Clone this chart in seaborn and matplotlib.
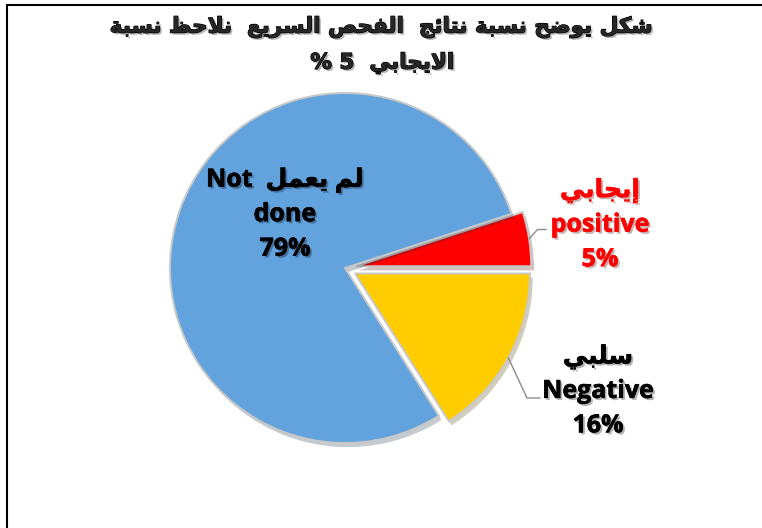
import matplotlib
matplotlib.use("Agg")
import matplotlib.pyplot as plt
import matplotlib.patheffects as pe
from matplotlib.lines import Line2D
import numpy as np
import seaborn as sns

# --- Дані ---
labels_ar = ["إيجابي", "لم يعمل", "سلبي"]
labels_en = ["positive", "Not done", "Negative"]
values = [5, 79, 16]
colors = ["#FF0000", "#62A3DE", "#FFCC00"]
text_colors = ["#FF0000", "black", "black"]
explode = [0.065, 0, 0.065]
title_line1 = "شكل يوضح نسبة نتائج  الفحص السريع  نلاحظ نسبة"
title_word2 = "الايجابي"
title_value = "% 5"

# --- Арабська: форми букв (ізольована, кінцева, початкова, середня) ---
FORMS = {
    "ا": (0xFE8D, 0xFE8E), "إ": (0xFE87, 0xFE88), "ة": (0xFE93, 0xFE94),
    "ر": (0xFEAD, 0xFEAE), "و": (0xFEED, 0xFEEE),
    "لا": (0xFEFB, 0xFEFC), "لإ": (0xFEF9, 0xFEFA),
    "ب": (0xFE8F, 0xFE90, 0xFE91, 0xFE92), "ت": (0xFE95, 0xFE96, 0xFE97, 0xFE98),
    "ج": (0xFE9D, 0xFE9E, 0xFE9F, 0xFEA0), "ح": (0xFEA1, 0xFEA2, 0xFEA3, 0xFEA4),
    "س": (0xFEB1, 0xFEB2, 0xFEB3, 0xFEB4), "ش": (0xFEB5, 0xFEB6, 0xFEB7, 0xFEB8),
    "ص": (0xFEB9, 0xFEBA, 0xFEBB, 0xFEBC), "ض": (0xFEBD, 0xFEBE, 0xFEBF, 0xFEC0),
    "ظ": (0xFEC5, 0xFEC6, 0xFEC7, 0xFEC8), "ع": (0xFEC9, 0xFECA, 0xFECB, 0xFECC),
    "ف": (0xFED1, 0xFED2, 0xFED3, 0xFED4), "ك": (0xFED9, 0xFEDA, 0xFEDB, 0xFEDC),
    "ل": (0xFEDD, 0xFEDE, 0xFEDF, 0xFEE0), "م": (0xFEE1, 0xFEE2, 0xFEE3, 0xFEE4),
    "ن": (0xFEE5, 0xFEE6, 0xFEE7, 0xFEE8), "ي": (0xFEF1, 0xFEF2, 0xFEF3, 0xFEF4),
    "ئ": (0xFE89, 0xFE8A, 0xFE8B, 0xFE8C),
}


def arabic(text):
    # з'єднуємо букви і перевертаємо рядок для показу справа наліво
    units, i = [], 0
    while i < len(text):
        if text[i] == "ل" and i + 1 < len(text) and text[i + 1] in "اإ":
            units.append("ل" + text[i + 1])
            i += 2
        else:
            units.append(text[i])
            i += 1
    out = []
    for k, u in enumerate(units):
        if u not in FORMS:
            out.append(u)
            continue
        f = FORMS[u]
        prev = units[k - 1] if k > 0 else None
        nxt = units[k + 1] if k + 1 < len(units) else None
        jp = prev in FORMS and len(FORMS[prev]) == 4
        jn = nxt in FORMS and len(f) == 4
        if jp and jn:
            out.append(chr(f[3]))
        elif jp:
            out.append(chr(f[1]))
        elif jn:
            out.append(chr(f[2]))
        else:
            out.append(chr(f[0]))
    return "".join(reversed(out))


sns.set_theme(style="white")
plt.rcParams["font.family"] = ["Open Sans", "DejaVu Sans"]

fig = plt.figure(figsize=(7.62, 5.28), dpi=100)
fig.patch.set_facecolor("white")

# рамка
fig.add_artist(Line2D([6.5 / 762, 6.5 / 762], [0, 1 - 4.5 / 528],
                      transform=fig.transFigure, color="black", lw=1.5))
fig.add_artist(Line2D([6.5 / 762, 1], [1 - 4.5 / 528, 1 - 4.5 / 528],
                      transform=fig.transFigure, color="black", lw=1.5))

ax = fig.add_axes([95 / 762, 10 / 528, 500 / 762, 500 / 528])

wedges, _ = ax.pie(values, colors=colors, explode=explode, startangle=0,
                   counterclock=True, radius=1,
                   wedgeprops=dict(edgecolor="#c8c8c8", linewidth=1.4))
for w in wedges:
    w.set_path_effects([pe.SimplePatchShadow(offset=(2, -3), alpha=0.25), pe.Normal()])
lim = 250 / 175
ax.set_xlim(-lim, lim)
ax.set_ylim(-lim, lim)
ax.set_aspect("equal")
ax.axis("off")

shadow = [pe.SimplePatchShadow(offset=(1.5, -1.5), alpha=0.3),
          pe.withStroke(linewidth=0.4)]

# підписи секторів
label_pos = [(1.457, 0.245), (-0.343, 0.305), (1.446, -0.705)]
total = sum(values)
for i, (x, y) in enumerate(label_pos):
    pct = f"{values[i] / total * 100:.0f}%"
    if i == 1:
        txt = "Not  " + arabic(labels_ar[i]) + "\ndone\n" + pct
    else:
        txt = arabic(labels_ar[i]) + "\n" + labels_en[i] + "\n" + pct
    ax.text(x, y, txt, ha="center", va="center", fontsize=18, fontweight="bold",
            color=text_colors[i], linespacing=1.5, path_effects=shadow)

# виносні лінії
leaders = {0: [(1.10, 0.22), (1.15, 0.22)], 2: [(1.04, -0.743), (1.115, -0.743)]}
for i, pts in leaders.items():
    w = wedges[i]
    mid = np.deg2rad((w.theta1 + w.theta2) / 2)
    sx = w.center[0] + w.r * np.cos(mid)
    sy = w.center[1] + w.r * np.sin(mid)
    xs = [sx] + [p[0] for p in pts]
    ys = [sy] + [p[1] for p in pts]
    ax.plot(xs, ys, color="#8c8c8c", lw=1)

# заголовок
title_fx = [pe.SimplePatchShadow(offset=(1.5, -1.5), alpha=0.3),
            pe.withStroke(linewidth=0.9, foreground="black")]
fig.text(380 / 762, 1 - 27 / 528, arabic(title_line1), ha="center", va="center",
         fontsize=15.5, fontweight="bold", family=["DejaVu Sans"], path_effects=title_fx)
fig.text(382 / 762, 1 - 63 / 528, title_value + "  " + arabic(title_word2),
         ha="center", va="center", fontsize=15.5, fontweight="bold",
         family=["DejaVu Sans"], path_effects=title_fx)

fig.savefig("out.png", dpi=100)
